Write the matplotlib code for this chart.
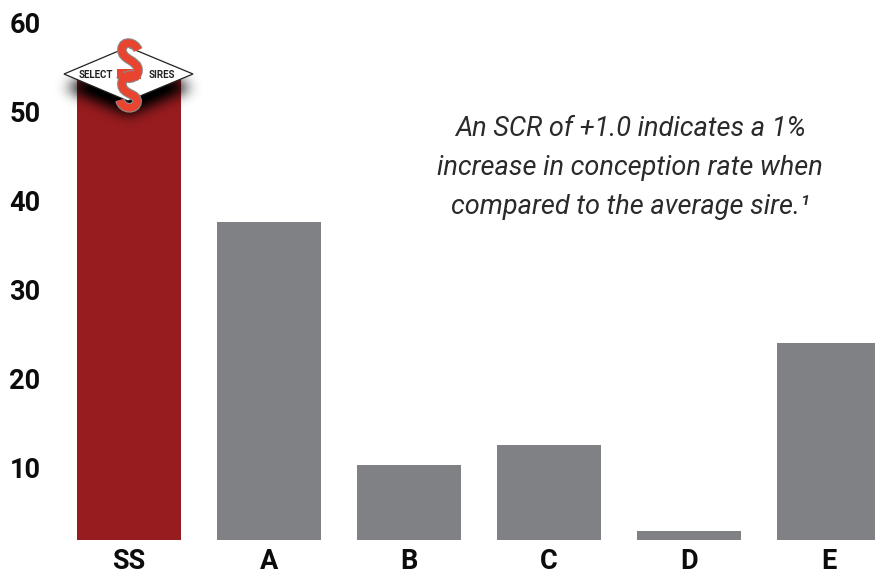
import numpy as np
import matplotlib
matplotlib.use('Agg')
import matplotlib.pyplot as plt
from matplotlib.path import Path
from matplotlib.patches import PathPatch, Polygon

categories = ['SS', 'A', 'B', 'C', 'D', 'E']
values = [53.6, 37.6, 10.3, 12.5, 2.9, 24.0]
bar_colors = ['#971c1f', '#808184', '#808184', '#808184', '#808184', '#808184']
y_ticks = [10, 20, 30, 40, 50, 60]
baseline = 1.9
note = 'An SCR of +1.0 indicates a 1%\nincrease in conception rate when\ncompared to the average sire.\u00b9'

W, H = 875, 575
fig = plt.figure(figsize=(W/100, H/100), dpi=100)
ax = fig.add_axes([60/W, 35/H, 815/W, 540/H])
x = np.arange(len(categories))
ax.bar(x, np.array(values) - baseline, bottom=baseline, width=104/140.1, color=bar_colors)
ax.set_xlim((60-128.6)/140.1, (875-128.6)/140.1)
ax.set_ylim((556.5-540)/8.9, 556.5/8.9)
ax.set_xticks(x, categories)
ax.set_yticks(y_ticks)
for s in ax.spines.values():
    s.set_visible(False)
ax.tick_params(length=0)
ax.tick_params(axis='x', pad=5.6)
ax.tick_params(axis='y', pad=14)
for t in ax.get_xticklabels() + ax.get_yticklabels():
    t.set_fontfamily('Roboto'); t.set_fontweight('bold'); t.set_fontsize(19.5); t.set_color('#0c0c0c')

fig.text(630/W, 1-168/H, note, ha='center', va='center', family='Roboto', style='italic',
         weight='normal', fontsize=19.5, color='#2a2a2a', linespacing=1.66)

# logo overlay in pixel coordinates
ov = fig.add_axes([0, 0, 1, 1], zorder=5)
dia = [(64, 74), (128, 47), (193, 74), (128, 101)]
yy, xx = np.mgrid[0:H, 0:W]
mask = (np.abs(xx-128)/63 + np.abs(yy-87)/27 <= 1).astype(float)
kern = np.ones(13)/13
for _ in range(3):
    mask = np.apply_along_axis(lambda r: np.convolve(r, kern, 'same'), 0, mask)
    mask = np.apply_along_axis(lambda r: np.convolve(r, kern, 'same'), 1, mask)
rgba = np.zeros((H, W, 4)); rgba[..., 3] = np.clip(mask*1.15, 0, 1)
ov.imshow(rgba, extent=(0, W, H, 0), interpolation='bilinear', aspect='auto', zorder=1)
ov.set_xlim(0, W); ov.set_ylim(H, 0); ov.axis('off'); ov.patch.set_alpha(0)
ov.add_patch(Polygon(dia, closed=True, fc='white', ec='#222222', lw=0.9, zorder=2))
ov.add_patch(Polygon([(117, 69), (141, 69), (141, 79), (117, 79)], closed=True, fc='#e8442f', ec='none', zorder=2.5))
M, C = Path.MOVETO, Path.CURVE4
upper = Path([(138, 50), (135, 42), (123, 40), (122, 49),
              (121, 60), (138, 60), (138, 70),
              (138, 79), (125, 81), (120, 74)], [M, C, C, C, C, C, C, C, C, C])
lower = Path([(140, 77), (132, 72), (121, 76), (122, 85),
              (123, 95), (138, 93), (137, 102),
              (136, 110), (122, 110), (120, 100)], [M, C, C, C, C, C, C, C, C, C])
for p in (upper, lower):
    ov.add_patch(PathPatch(p, fc='none', ec='#8c8c8c', lw=7, capstyle='butt', zorder=3))
    ov.add_patch(PathPatch(p, fc='none', ec='#e8442f', lw=5.4, capstyle='butt', zorder=3.1))
ov.text(95.5, 75.5, 'SELECT', ha='center', va='center', family='Roboto', weight='bold', fontsize=7, color='#222222', zorder=4)
ov.text(161.5, 75.5, 'SIRES', ha='center', va='center', family='Roboto', weight='bold', fontsize=7, color='#222222', zorder=4)
fig.savefig('out.png', dpi=100)
